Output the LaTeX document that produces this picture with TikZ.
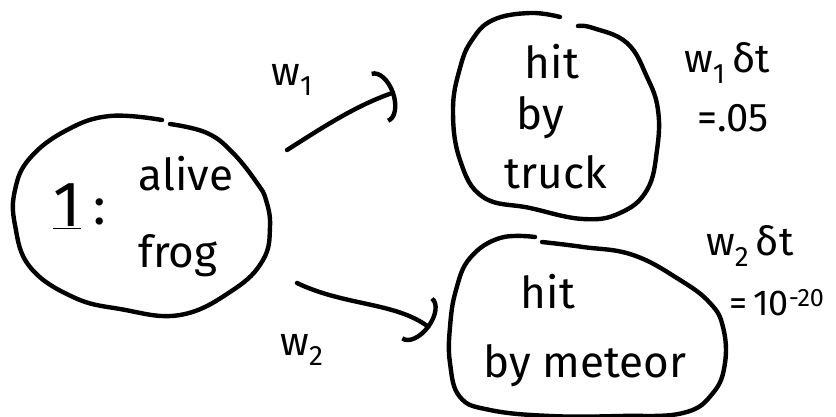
\documentclass[tikz,border=0pt]{standalone}
\usepackage{fontspec}
\setmainfont{Fira Sans}
\usetikzlibrary{arrows.meta}
\tikzset{
  ink/.style={line width=4.4pt, line cap=round, line join=round, black},
  txt/.style={inner sep=0pt, font=\fontsize{44}{48}\selectfont},
  lbl/.style={inner sep=0pt, font=\fontsize{40}{44}\selectfont},
  flow/.style={ink, -{Arc Barb[length=16pt,width=54pt]}},
}
\begin{document}
\begin{tikzpicture}[x=1pt,y=-1pt]
\useasboundingbox (0,0) rectangle (836,417);
% left blob: alive frog
\draw[ink] plot[smooth, tension=0.7] coordinates {(162,120) (110,116) (67,130) (30,158) (15,190) (15,225) (30,267) (73,297) (120,309) (180,315) (233,290) (263,260) (270,227) (266,200) (257,183) (233,153) (207,133) (170,124)};
% truck blob
\draw[ink] plot[smooth, tension=0.7] coordinates {(560,17) (530,13) (493,20) (472,40) (460,68) (453,110) (460,160) (483,197) (530,208) (583,219) (620,213) (647,190) (657,150) (658,110) (647,77) (627,43) (593,28) (578,26)};
% meteor blob
\draw[ink] plot[smooth, tension=0.7] coordinates {(535,237) (500,238) (470,258) (456,290) (450,327) (450,363) (460,397) (490,410) (550,416) (620,416) (683,413) (713,393) (725,363) (723,327) (710,303) (680,280) (633,255) (583,247) (542,242)};
% texts
\node[inner sep=0pt, font=\fontsize{64}{66}\selectfont] (one) at (67,206) {\underline{1}};
\node[inner sep=0pt, font=\fontsize{52}{56}\selectfont] (colon) at (100,212) {:};
\node[txt] (alive) at (186,174) {alive};
\node[txt] (frog) at (178,256) {frog};
\node[txt] (hit1) at (552,62) {hit};
\node[txt] (by1) at (540,118) {by};
\node[txt] (truck) at (556,172) {truck};
\node[txt] (hit2) at (548,292) {hit};
\node[txt] (by2) at (585,366) {by meteor};
% connectors
\coordinate (a1s) at (287,150);
\coordinate (a1e) at (395,92);
\coordinate (a2s) at (297,283);
\coordinate (a2e) at (430,328);
\draw[flow] (a1s) .. controls (325,126) and (355,106) .. (a1e);
\draw[flow] (a2s) .. controls (345,306) and (395,302) .. (a2e);
% labels
\node[lbl] (w1) at (292,80) {w\textsubscript{1}};
\node[lbl] (w2) at (302,350) {w\textsubscript{2}};
\node[lbl, anchor=west] (w1dt) at (684,63) {w\textsubscript{1}\,δt};
\node[lbl, anchor=west] (p1) at (697,118) {=.05};
\node[lbl, anchor=west] (w2dt) at (706,246) {w\textsubscript{2}\,δt};
\node[inner sep=0pt, font=\fontsize{36}{40}\selectfont, anchor=west] (p2) at (729,303) {=\,10\textsuperscript{-20}};
\end{tikzpicture}
\end{document}
